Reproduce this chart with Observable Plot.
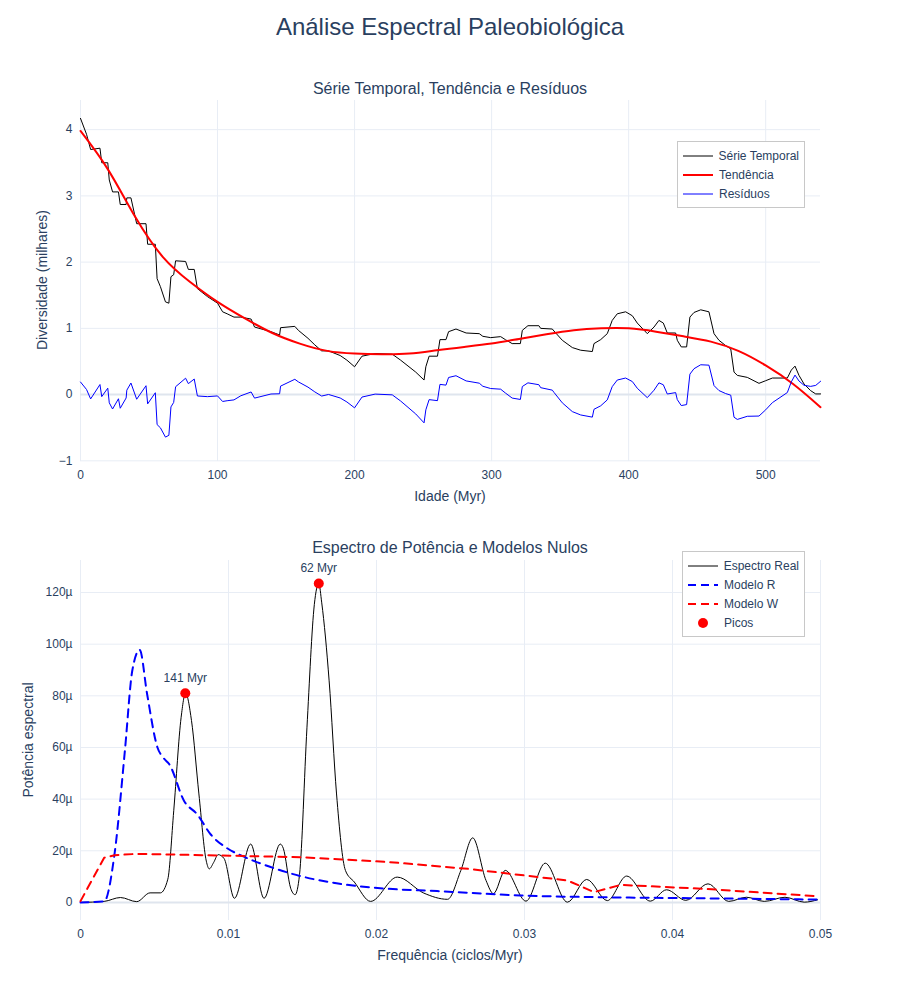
<!DOCTYPE html>
<html><head><meta charset="utf-8">
<script src="https://cdn.jsdelivr.net/npm/d3@7"></script>
<script src="https://cdn.jsdelivr.net/npm/@observablehq/plot@0.6"></script>
<style>
body{margin:0;background:#fff;font-family:"Liberation Sans",Arial,sans-serif;color:#2a3f5f}
#wrap{position:relative;width:900px;height:1000px}
.abs{position:absolute}
.ttl{position:absolute;width:900px;text-align:center}
.lab{position:absolute;font-size:14px;white-space:nowrap;transform:translate(-50%,-50%)}
.rot{transform:translate(-50%,-50%) rotate(-90deg)}
.leg{position:absolute;background:#fff;border:1px solid #c8c8c8;font-size:12px;padding:4px 5px;white-space:nowrap}
.leg div{height:19px;display:flex;align-items:center}
.leg svg{margin-right:6px}
</style></head>
<body><div id="wrap">
<div class="ttl" style="top:13px;font-size:24px">Análise Espectral Paleobiológica</div>
<div class="ttl" style="top:80px;font-size:16px">Série Temporal, Tendência e Resíduos</div>
<div class="ttl" style="top:539px;font-size:16px">Espectro de Potência e Modelos Nulos</div>
<div id="p1" class="abs" style="top:95px;left:0"></div>
<div id="p2" class="abs" style="top:555px;left:0"></div>
<div class="lab" style="left:450px;top:496px">Idade (Myr)</div>
<div class="lab rot" style="left:42px;top:280px">Diversidade (milhares)</div>
<div class="lab" style="left:450px;top:955px">Frequência (ciclos/Myr)</div>
<div class="lab rot" style="left:28px;top:740px">Potência espectral</div>
<div class="leg" style="left:677px;top:141px;width:116px">
 <div><svg width="30" height="4"><line x1="0" x2="30" y1="2" y2="2" stroke="black"/></svg>Série Temporal</div>
 <div><svg width="30" height="4"><line x1="0" x2="30" y1="2" y2="2" stroke="red" stroke-width="2"/></svg>Tendência</div>
 <div><svg width="30" height="4"><line x1="0" x2="30" y1="2" y2="2" stroke="blue"/></svg>Resíduos</div>
</div>
<div class="leg" style="left:682px;top:551px;width:111px">
 <div><svg width="30" height="4"><line x1="0" x2="30" y1="2" y2="2" stroke="black"/></svg>Espectro Real</div>
 <div><svg width="30" height="4"><line x1="0" x2="30" y1="2" y2="2" stroke="blue" stroke-width="2" stroke-dasharray="8,5"/></svg>Modelo R</div>
 <div><svg width="30" height="4"><line x1="0" x2="30" y1="2" y2="2" stroke="red" stroke-width="2" stroke-dasharray="8,5"/></svg>Modelo W</div>
 <div><svg width="30" height="12"><circle cx="15" cy="6" r="5" fill="red"/></svg>Picos</div>
</div>
</div>
<script>
// série temporal (idade Myr, diversidade em milhares)
const ages = [0,4.4,7.4,14.2,15.5,19.9,21,23.4,27.7,29,33.3,33.8,36.8,41,47.8,49,54.6,55.9,58.3,62,64.5,66,68,69.4,76.7,78.7,83,85.3,92.6,100,103.7,107,112,117,124.5,127,139,145.3,146,156.4,159,166,171,176,181,189.5,194.4,200,205.4,215,227.5,233.6,244.6,250.7,252,254.4,260.5,262.3,266.7,268.6,274,281.4,291,293.6,299.3,306.6,310,315,321,322.4,326.5,334.5,335.8,344.3,345.5,351.6,358.9,365,373.5,374.7,379.6,384.4,388,391.7,397.8,402.7,406.3,413.6,418.5,422.1,425.3,428.2,434.3,435.5,438.4,442.3,444.7,447.7,452.6,458.6,462.3,465.9,470.8,474.5,476.9,479.3,486.6,495.1,500,504.9,515.8,518.7,521.4,524.3,528,532.8,536.5,540.1];
const diversity = [4.17,3.93,3.7,3.72,3.5,3.5,3.24,3.06,3.06,2.87,2.87,2.97,2.97,2.58,2.58,2.27,2.27,1.75,1.63,1.4,1.38,1.78,1.81,2.02,2.01,1.89,1.89,1.6,1.48,1.38,1.25,1.22,1.17,1.17,1.14,1.02,0.95,0.9,1.01,1.03,0.97,0.85,0.75,0.66,0.66,0.59,0.52,0.42,0.58,0.62,0.61,0.52,0.34,0.22,0.42,0.58,0.58,0.83,0.83,0.95,0.99,0.93,0.92,0.88,0.86,0.875,0.83,0.77,0.77,0.97,1.04,1.04,1.0,0.99,0.96,0.82,0.71,0.67,0.65,0.77,0.83,0.92,1.12,1.22,1.25,1.19,1.08,0.92,1.02,1.12,1.08,0.93,0.93,0.82,0.72,0.72,1.17,1.24,1.28,1.25,0.92,0.82,0.74,0.69,0.34,0.29,0.26,0.17,0.21,0.25,0.25,0.37,0.43,0.29,0.16,0.06,0.01,0.01];
// tendência polinomial
const trendAges = [0,20,40,60,80,100,120,140,160,180,200,220,240,260,280,300,320,340,360,380,400,420,440,460,480,500,520,540];
const trendVals = [3.98,3.4,2.68,2.08,1.7,1.4,1.15,0.93,0.77,0.66,0.62,0.61,0.62,0.67,0.72,0.77,0.84,0.91,0.97,1.0,1.0,0.95,0.88,0.8,0.66,0.44,0.16,-0.19];

// espectro de potência (frequência ciclos/Myr, potência em µ)
const freqs = [0,0.0016,0.0027,0.0038,0.0047,0.0054,0.0059,0.0063,0.0068,0.0071,0.0075,0.008,0.0085,0.0087,0.009,0.0093,0.0097,0.0104,0.0115,0.0124,0.0135,0.0137,0.0142,0.0145,0.0148,0.0153,0.0158,0.0161,0.0163,0.0168,0.0173,0.0179,0.0185,0.0196,0.0214,0.0232,0.0248,0.0257,0.0265,0.0274,0.0279,0.0287,0.0301,0.0314,0.0329,0.0342,0.0356,0.0369,0.0385,0.0396,0.0409,0.0424,0.0438,0.045,0.0462,0.0476,0.0489,0.0498];
const power = [0,0.4,1.9,0.3,3.7,3.7,9,35.5,71.7,81,70.4,42,16,13,15.5,18.5,17,1.6,22.6,1.6,22.6,21,5.5,3,10.8,67.6,115.4,123.5,116,85.8,42,12.4,7.9,0.4,9.8,3.6,1.2,12.4,25,8.5,3.4,12.4,0.5,15.2,0.1,8.9,0.7,10.2,0.5,4.9,0.8,7.2,0.4,2,0.4,2,0.1,1];
const rFreqs = [0,0.0016,0.0023,0.003,0.0035,0.004,0.0045,0.0052,0.0056,0.006,0.007,0.0079,0.0088,0.0099,0.011,0.0128,0.015,0.0173,0.0205,0.0241,0.0297,0.0353,0.042,0.0498];
const rPower = [0,0.4,18.8,58.8,89.8,97.8,80.7,60,56,53.5,39.3,34,26.3,21,17.8,13.8,10,7.4,5.4,4.4,2.7,2,1.6,1.1];
const wFreqs = [0,0.0016,0.0023,0.0038,0.0083,0.015,0.0209,0.0262,0.0329,0.0347,0.0365,0.042,0.0498];
const wPower = [0.5,17.3,18.3,18.8,18.3,17.5,15.6,13,8.5,4,6.8,5.3,2.4];
const peakFreqs = [0.00708,0.0161];
const peakPower = [81,123.5];
const peakLabels = ["141 Myr","62 Myr"];

const series = ages.map((a,i)=>({x:a,y:diversity[i]}));
const trend = trendAges.map((a,i)=>({x:a,y:trendVals[i]}));
const trendAt = a => {
  const i = Math.min(trendAges.length-2, Math.max(0, d3.bisectRight(trendAges,a)-1));
  const t = (a-trendAges[i])/(trendAges[i+1]-trendAges[i]);
  return trendVals[i]+t*(trendVals[i+1]-trendVals[i]);
};
const resid = series.map(d=>({x:d.x,y:d.y-trendAt(d.x)}));

const grid = "#e8edf5";
const font = {fontSize:"12px",color:"#2a3f5f",fontFamily:"Liberation Sans, Arial, sans-serif"};
const p1 = Plot.plot({
  width:900,height:411,marginLeft:80,marginRight:80,marginTop:5,marginBottom:45,
  style:font,
  x:{domain:[0,540]},
  y:{domain:[-1.01,4.44]},
  marks:[
    Plot.gridX([0,100,200,300,400,500],{stroke:grid,strokeOpacity:1}),
    Plot.gridY([-1,0,1,2,3,4],{stroke:grid,strokeOpacity:1}),
    Plot.ruleY([0],{stroke:"#dfe5ee",strokeWidth:2}),
    Plot.axisX({ticks:[0,100,200,300,400,500],tickSize:0,tickPadding:9,label:null}),
    Plot.axisY({ticks:[-1,0,1,2,3,4],tickSize:0,tickPadding:8,tickFormat:d=>d<0?"−"+(-d):d,label:null}),
    Plot.line(series,{x:"x",y:"y",stroke:"black",strokeWidth:1}),
    Plot.line(trend,{x:"x",y:"y",stroke:"red",strokeWidth:2,curve:"natural"}),
    Plot.line(resid,{x:"x",y:"y",stroke:"blue",strokeWidth:1})
  ]
});
document.querySelector("#p1").append(p1);

const spec = freqs.map((f,i)=>({x:f,y:power[i]}));
const rm = rFreqs.map((f,i)=>({x:f,y:rPower[i]}));
const wm = wFreqs.map((f,i)=>({x:f,y:wPower[i]}));
const peaks = peakFreqs.map((f,i)=>({x:f,y:peakPower[i],t:peakLabels[i]}));
const yT=[0,20,40,60,80,100,120], xT=[0,0.01,0.02,0.03,0.04,0.05];
const p2 = Plot.plot({
  width:900,height:410,marginLeft:80,marginRight:80,marginTop:5,marginBottom:45,
  style:font,
  x:{domain:[0,0.05]},
  y:{domain:[-7,132.4]},
  marks:[
    Plot.gridX(xT,{stroke:grid,strokeOpacity:1}),
    Plot.gridY(yT,{stroke:grid,strokeOpacity:1}),
    Plot.ruleY([0],{stroke:"#dfe5ee",strokeWidth:2}),
    Plot.axisX({ticks:xT,tickSize:0,tickPadding:9,tickFormat:d=>d===0?"0":String(d),label:null}),
    Plot.axisY({ticks:yT,tickSize:0,tickPadding:8,tickFormat:d=>d===0?"0":d+"µ",label:null}),
    Plot.line(spec,{x:"x",y:"y",stroke:"black",strokeWidth:1,curve:"monotone-x"}),
    Plot.line(rm,{x:"x",y:"y",stroke:"blue",strokeWidth:2,strokeDasharray:"8,6",curve:"monotone-x"}),
    Plot.line(wm,{x:"x",y:"y",stroke:"red",strokeWidth:2,strokeDasharray:"8,6"}),
    Plot.dot(peaks,{x:"x",y:"y",r:5,fill:"red"}),
    Plot.text(peaks,{x:"x",y:"y",text:"t",dy:-15,fontSize:12,fill:"#2a3f5f"})
  ]
});
document.querySelector("#p2").append(p2);
</script>
</body></html>
